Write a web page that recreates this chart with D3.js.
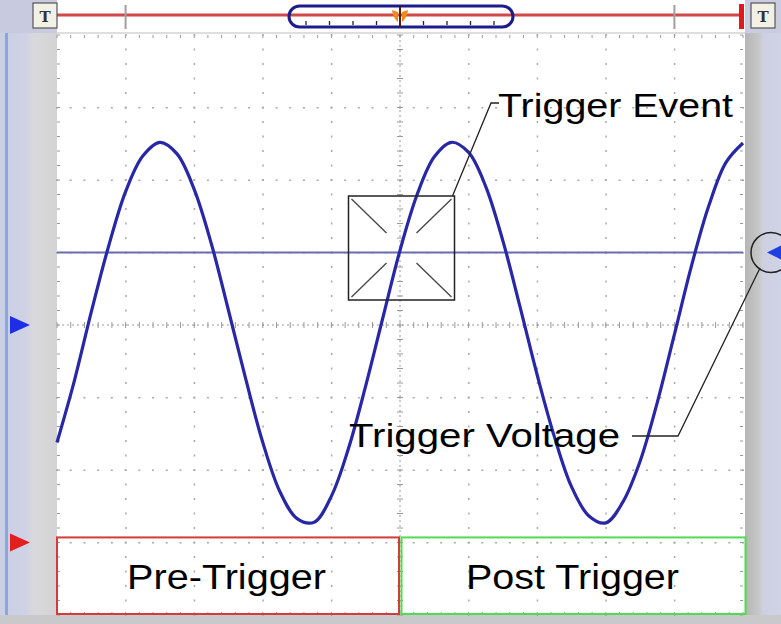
<!DOCTYPE html>
<html><head><meta charset="utf-8">
<script src="https://cdn.jsdelivr.net/npm/d3@7"></script>
<style>html,body{margin:0;padding:0;background:#fff;}svg{display:block;}</style>
</head><body>
<svg id="c" width="781" height="624"></svg>
<script>
// ---- data ----
const timeDiv = [0,0.25,0.5,0.75,1,1.25,1.5,1.75,2,2.25,2.5,2.75,3,3.25,3.5,3.75,4,4.25,4.5,4.75,5,5.25,5.5,5.75,6,6.25,6.5,6.75,7,7.25,7.5,7.75,8,8.25,8.5,8.75,9,9.25,9.5,9.75,10];
const voltage = [-1.62,-0.78,0.18,1.08,1.84,2.33,2.52,2.36,1.87,1.12,0.20,-0.74,-1.62,-2.30,-2.67,-2.72,-2.36,-1.70,-0.84,0.10,1.03,1.80,2.32,2.52,2.38,1.91,1.16,0.25,-0.69,-1.54,-2.23,-2.63,-2.73,-2.44,-1.88,-1.07,-0.13,0.82,1.64,2.24,2.51];
const xMajor = [0,1,2,3,4,5,6,7,8,9,10];
const yMajor = [-4,-3,-2,-1,0,1,2,3,4];
const triggerTime = 5;
const triggerLevel = 1.0;
const zoneLabels = ["Pre-Trigger","Post Trigger"];
const calloutLabels = ["Trigger Event","Trigger Voltage"];
const markerLabel = "T";

// ---- layout ----
const svg = d3.select("#c");
const W = 781, H = 624;
const x = d3.scaleLinear().domain([0,10]).range([57,743]);
const y = d3.scaleLinear().domain([-4,4]).range([615,35]);
const FONT = "'Liberation Sans', Arial, sans-serif";

// backgrounds
const defs = svg.append("defs");
const gl = defs.append("linearGradient").attr("id","lg").attr("x1","0").attr("x2","1");
gl.append("stop").attr("offset","0").attr("stop-color","#c9cfe6");
gl.append("stop").attr("offset","0.45").attr("stop-color","#cfd2e4");
gl.append("stop").attr("offset","0.6").attr("stop-color","#d9d9dc");
gl.append("stop").attr("offset","1").attr("stop-color","#d4d4d4");
const gr = defs.append("linearGradient").attr("id","rg").attr("x1","0").attr("x2","1");
gr.append("stop").attr("offset","0").attr("stop-color","#b5b5b5");
gr.append("stop").attr("offset","0.4").attr("stop-color","#c8c8c8");
gr.append("stop").attr("offset","0.5").attr("stop-color","#cdd0e0");
gr.append("stop").attr("offset","1").attr("stop-color","#cfd3e6");

svg.append("rect").attr("width",W).attr("height",H).attr("fill","#d2d4de");
svg.append("rect").attr("x",0).attr("y",0).attr("width",57).attr("height",H).attr("fill","url(#lg)");
svg.append("rect").attr("x",5).attr("y",0).attr("width",3).attr("height",H).attr("fill","#8ea4e2");
svg.append("rect").attr("x",745).attr("y",0).attr("width",36).attr("height",H).attr("fill","url(#rg)");
svg.append("rect").attr("x",0).attr("y",615).attr("width",W).attr("height",9).attr("fill","#c9c9cc");
// top bar
svg.append("rect").attr("x",57).attr("y",0).attr("width",688).attr("height",33).attr("fill","#ffffff");
svg.append("rect").attr("x",0).attr("y",0).attr("width",57).attr("height",33).attr("fill","#c8cbe0");
svg.append("rect").attr("x",745).attr("y",0).attr("width",36).attr("height",33).attr("fill","#cacde0");
// plot area
svg.append("rect").attr("x",x(0)).attr("y",33).attr("width",x(10)-x(0)+2).attr("height",y(-4)-33).attr("fill","#ffffff");
svg.append("line").attr("x1",x(0)).attr("x2",x(10)+2).attr("y1",33).attr("y2",33).attr("stroke","#bdbdbd").attr("stroke-width",1);

// ---- grid ----
const grid = svg.append("g").attr("fill","#a8a8a8");
const xMinor = d3.range(0,10.001,0.2);
const yMinor = d3.range(-4,4.001,0.2);
xMajor.forEach(t => {
  if (t===0 || t===10 || t===triggerTime) return;
  yMinor.forEach(v => grid.append("rect").attr("x",x(t)-0.5).attr("y",y(v)-1).attr("width",1.5).attr("height",2));
});
yMajor.forEach(v => {
  if (v===-4 || v===4 || v===0) return;
  xMinor.forEach(t => grid.append("rect").attr("x",x(t)-1).attr("y",y(v)-0.5).attr("width",2).attr("height",1.5));
});
// centre axes with tick marks
const axes = svg.append("g").attr("stroke","#9a9a9a").attr("stroke-width",1);
axes.append("line").attr("x1",x(triggerTime)).attr("x2",x(triggerTime)).attr("y1",y(4)).attr("y2",y(-4)).attr("stroke-dasharray","2,3");
axes.append("line").attr("x1",x(0)).attr("x2",x(10)).attr("y1",y(0)).attr("y2",y(0)).attr("stroke-dasharray","2,3");
yMinor.forEach(v => axes.append("line").attr("x1",x(triggerTime)-3).attr("x2",x(triggerTime)+3).attr("y1",y(v)).attr("y2",y(v)));
xMinor.forEach(t => axes.append("line").attr("x1",x(t)).attr("x2",x(t)).attr("y1",y(0)-3).attr("y2",y(0)+3));
// edge ticks
xMinor.forEach(t => {
  axes.append("line").attr("x1",x(t)).attr("x2",x(t)).attr("y1",y(4)).attr("y2",y(4)+3);
  axes.append("line").attr("x1",x(t)).attr("x2",x(t)).attr("y1",y(-4)-3).attr("y2",y(-4));
});
yMinor.forEach(v => {
  axes.append("line").attr("x1",x(0)).attr("x2",x(0)+3).attr("y1",y(v)).attr("y2",y(v));
  axes.append("line").attr("x1",x(10)-3).attr("x2",x(10)).attr("y1",y(v)).attr("y2",y(v));
});

// ---- zones ----
const zoneTop = y(-2.93);
svg.append("rect").attr("x",x(0)).attr("y",zoneTop).attr("width",x(triggerTime)-x(0)-1).attr("height",y(-4)-zoneTop-1)
  .attr("fill","none").attr("stroke","#d23c3c").attr("stroke-width",2);
svg.append("rect").attr("x",x(triggerTime)+1.5).attr("y",zoneTop).attr("width",x(10)-x(triggerTime)+1).attr("height",y(-4)-zoneTop-1)
  .attr("fill","none").attr("stroke","#4fdc4f").attr("stroke-width",2);
svg.append("text").attr("x",127).attr("y",589)
  .attr("font-family",FONT).attr("font-size",35).attr("fill","#000")
  .attr("textLength",199).attr("lengthAdjust","spacingAndGlyphs").text(zoneLabels[0]);
svg.append("text").attr("x",466).attr("y",589)
  .attr("font-family",FONT).attr("font-size",35).attr("fill","#000")
  .attr("textLength",213).attr("lengthAdjust","spacingAndGlyphs").text(zoneLabels[1]);

// ---- trigger level line ----
svg.append("line").attr("x1",x(0)).attr("x2",x(10)).attr("y1",y(triggerLevel)).attr("y2",y(triggerLevel))
  .attr("stroke","#6b6bb0").attr("stroke-width",2);

// ---- waveform ----
const pts = timeDiv.map((t,i)=>[t,voltage[i]]);
const line = d3.line().x(d=>x(d[0])).y(d=>y(d[1])).curve(d3.curveCatmullRom);
svg.append("path").datum(pts).attr("d",line).attr("fill","none").attr("stroke","#2828a6").attr("stroke-width",3.2);

// ---- trigger event box ----
const cx = x(triggerTime)+1.5, cy = y(triggerLevel)-4.5, hw = 53, hh = 52, inner = 15;
const tb = svg.append("g").attr("stroke","#222").attr("fill","none");
tb.append("rect").attr("x",cx-hw).attr("y",cy-hh).attr("width",2*hw).attr("height",2*hh).attr("stroke-width",1.5);
[[-1,-1],[1,-1],[-1,1],[1,1]].forEach(([sx,sy])=>{
  tb.append("line").attr("x1",cx+sx*(hw-3)).attr("y1",cy+sy*(hh-3)).attr("x2",cx+sx*inner).attr("y2",cy+sy*inner).attr("stroke-width",1.3).attr("stroke","#444");
});
// callout: trigger event
svg.append("path").attr("d",`M${cx+hw-2},${cy-hh} L${491},${103} L${499},${103}`).attr("fill","none").attr("stroke","#222").attr("stroke-width",1.3);
svg.append("text").attr("x",498).attr("y",117).attr("font-family",FONT).attr("font-size",34).attr("fill","#000")
  .attr("textLength",235).attr("lengthAdjust","spacingAndGlyphs").text(calloutLabels[0]);
// callout: trigger voltage
svg.append("text").attr("x",349).attr("y",447).attr("font-family",FONT).attr("font-size",34).attr("fill","#000")
  .attr("textLength",271).attr("lengthAdjust","spacingAndGlyphs").text(calloutLabels[1]);
svg.append("path").attr("d",`M632,436 L678,436 L760,268`).attr("fill","none").attr("stroke","#222").attr("stroke-width",1.3);
svg.append("circle").attr("cx",771).attr("cy",y(triggerLevel)).attr("r",20).attr("fill","none").attr("stroke","#222").attr("stroke-width",1.5);
svg.append("path").attr("d",`M767,${y(triggerLevel)} L781,${y(triggerLevel)-7} L781,${y(triggerLevel)+7}Z`).attr("fill","#1f3fe0");

// ---- left markers ----
svg.append("path").attr("d",`M10,${y(0)-9} L30,${y(0)} L10,${y(0)+9}Z`).attr("fill","#1c2fe8");
svg.append("path").attr("d",`M10,${y(-3)-9} L30,${y(-3)} L10,${y(-3)+9}Z`).attr("fill","#e31e1e");

// ---- top bar ----
svg.append("line").attr("x1",57).attr("x2",742).attr("y1",15).attr("y2",15).attr("stroke","#d04848").attr("stroke-width",3);
[x(1),x(9)].forEach(px=>svg.append("line").attr("x1",px).attr("x2",px).attr("y1",5).attr("y2",29).attr("stroke","#a0a0a0").attr("stroke-width",2));
svg.append("rect").attr("x",739).attr("y",4).attr("width",5).attr("height",25).attr("fill","#e01a1a");
svg.append("rect").attr("x",289).attr("y",6).attr("width",224).attr("height",21).attr("rx",10.5)
  .attr("fill","none").attr("stroke","#1c1c8c").attr("stroke-width",3);
d3.range(-4,5).filter(k=>k!==0).forEach(k=>{
  const px = 400 + k*23.5;
  svg.append("line").attr("x1",px).attr("x2",px).attr("y1",21).attr("y2",25).attr("stroke","#222").attr("stroke-width",1.3);
});
svg.append("path").attr("d","M392,10 L398,12 L398,22 Q393,18 392,10Z").attr("fill","#f08a1a");
svg.append("path").attr("d","M408,10 L402,12 L402,22 Q407,18 408,10Z").attr("fill","#f08a1a");
svg.append("line").attr("x1",400).attr("x2",400).attr("y1",6).attr("y2",27).attr("stroke","#551a1a").attr("stroke-width",2);
[[33,markerLabel],[751,markerLabel]].forEach(([bx,lab])=>{
  svg.append("rect").attr("x",bx).attr("y",3).attr("width",24).attr("height",25).attr("fill","#f3f1e6").attr("stroke","#555").attr("stroke-width",1.2);
  svg.append("text").attr("x",bx+12).attr("y",22).attr("text-anchor","middle").attr("font-family","'DejaVu Serif', serif")
    .attr("font-weight","bold").attr("font-size",15).attr("fill","#333").text(lab);
});
</script>
</body></html>
